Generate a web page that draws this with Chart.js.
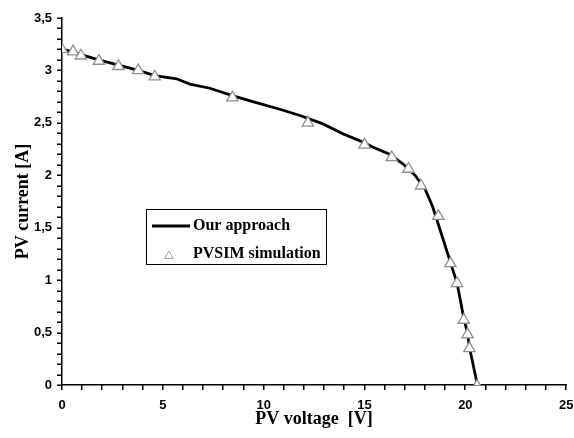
<!DOCTYPE html>
<html>
<head>
<meta charset="utf-8">
<script src="https://cdn.jsdelivr.net/npm/chart.js@4.4.0/dist/chart.umd.min.js"></script>
<style>
    html, body { margin: 0; padding: 0; background: #fff; }
    #wrap { width: 574px; height: 438px; }
</style>
</head>
<body>
<div id="wrap"><canvas id="ivChart" width="574" height="438"></canvas></div>
<script>
// Кривая "Our approach" (напряжение, ток)
const lineVoltage = [0, 0.55, 0.94, 1.83, 2.8, 3.78, 4.6, 5.68, 6.34, 7.33, 8.45, 9.5, 10.8, 11.8, 12.94, 14.0, 15.0, 15.4, 16.24, 16.9, 17.5, 18.0, 18.38, 18.88, 19.26, 19.59, 19.92, 20.11, 20.2, 20.6];
const lineCurrent = [3.2, 3.18, 3.15, 3.1, 3.05, 3.0, 2.95, 2.92, 2.87, 2.83, 2.76, 2.7, 2.63, 2.57, 2.49, 2.39, 2.31, 2.27, 2.2, 2.11, 2.0, 1.87, 1.7, 1.4, 1.17, 0.97, 0.64, 0.49, 0.36, 0];

// Точки PVSIM
const simVoltage = [0, 0.55, 0.94, 1.83, 2.8, 3.78, 4.6, 8.45, 12.19, 15.0, 16.35, 17.18, 17.8, 18.66, 19.26, 19.59, 19.92, 20.11, 20.2, 20.58];
const simCurrent = [3.2, 3.18, 3.14, 3.09, 3.04, 3.0, 2.94, 2.74, 2.5, 2.29, 2.17, 2.06, 1.9, 1.61, 1.16, 0.97, 0.62, 0.48, 0.35, -0.01];

// Засечки: основные и промежуточные
const xTickValues = [0, 1, 2, 3, 4, 5, 6, 7, 8, 9, 10, 11, 12, 13, 14, 15, 16, 17, 18, 19, 20, 21, 22, 23, 24, 25];
const yTickValues = [0, 0.1, 0.2, 0.3, 0.4, 0.5, 0.6, 0.7, 0.8, 0.9, 1, 1.1, 1.2, 1.3, 1.4, 1.5, 1.6, 1.7, 1.8, 1.9, 2, 2.1, 2.2, 2.3, 2.4, 2.5, 2.6, 2.7, 2.8, 2.9, 3, 3.1, 3.2, 3.3, 3.4, 3.5];

const seriesNames = ['Our approach', 'PVSIM simulation'];

function toPoints(xs, ys) {
    return xs.map((x, i) => ({ x: x, y: ys[i] }));
}

const tickFont = { family: 'Arial, "Liberation Sans", sans-serif', size: 13, weight: 'bold' };
const titleFont = { family: '"Liberation Serif", "Times New Roman", serif', size: 18, weight: 'bold' };

function drawAxisTicks(chart) {
    const ctx = chart.ctx;
    const area = chart.chartArea;
    const xs = chart.scales.x, ys = chart.scales.y;
    ctx.fillStyle = '#000';
    xTickValues.forEach(v => {
        const px = Math.round(xs.getPixelForValue(v));
        ctx.fillRect(px - 1, Math.round(area.bottom), 1.5, 5);
    });
    yTickValues.forEach(v => {
        const py = Math.round(ys.getPixelForValue(v));
        ctx.fillRect(Math.round(area.left) - 5, py - 0.5, 5, 1.5);
    });
}

// Легенда внутри области графика + засечки осей
const boxLegend = {
    id: 'boxLegend',
    afterDraw(chart) {
        const ctx = chart.ctx;
        ctx.save();
        try {
            drawAxisTicks(chart);
        } catch (err) {
            ctx.fillStyle = 'red';
            ctx.font = '12px sans-serif';
            ctx.fillText(String(err), 300, 60);
        }

        const x0 = 146, y0 = 209, w = 180, h = 55;
        ctx.fillStyle = '#fff';
        ctx.fillRect(x0, y0, w, h);
        ctx.strokeStyle = '#000';
        ctx.lineWidth = 1;
        ctx.strokeRect(x0 + 0.5, y0 + 0.5, w, h);

        const ds0 = chart.data.datasets[0];
        const ds1 = chart.data.datasets[1];
        ctx.strokeStyle = ds0.borderColor;
        ctx.lineWidth = ds0.borderWidth;
        ctx.beginPath();
        ctx.moveTo(152, 226);
        ctx.lineTo(190, 226);
        ctx.stroke();

        // маленький треугольник
        ctx.fillStyle = ds1.pointBackgroundColor;
        ctx.strokeStyle = '#a0a0a0';
        ctx.lineWidth = 1;
        ctx.beginPath();
        const r = 5;
        for (let k = 0; k < 3; k++) {
            const a = k * 2 * Math.PI / 3;
            const px = 169 + Math.sin(a) * r, py = 256 - Math.cos(a) * r;
            if (k === 0) ctx.moveTo(px, py); else ctx.lineTo(px, py);
        }
        ctx.closePath();
        ctx.fill();
        ctx.stroke();

        ctx.fillStyle = '#000';
        ctx.font = 'bold 16px "Liberation Serif", "Times New Roman", serif';
        ctx.textBaseline = 'middle';
        ctx.fillText(seriesNames[0], 193, 226);
        ctx.fillText(seriesNames[1], 193, 254);
        ctx.restore();
    }
};

const config = {
    type: 'scatter',
    data: {
        datasets: [
            {
                label: seriesNames[0],
                data: toPoints(lineVoltage, lineCurrent),
                showLine: true,
                borderColor: '#000',
                borderWidth: 2.8,
                pointRadius: 0,
                tension: 0,
                order: 2
            },
            {
                label: seriesNames[1],
                data: toPoints(simVoltage, simCurrent),
                showLine: false,
                pointStyle: 'triangle',
                pointRadius: 6.5,
                pointBorderWidth: 1.3,
                pointBorderColor: '#8f8f8f',
                pointBackgroundColor: '#fff',
                order: 1
            }
        ]
    },
    options: {
        responsive: false,
        animation: false,
        layout: { padding: { top: 18, right: 7, left: 0, bottom: 0 } },
        plugins: {
            legend: { display: false },
            tooltip: { enabled: false }
        },
        scales: {
            x: {
                type: 'linear',
                min: 0,
                max: 25,
                afterFit: s => { s.height = 53; s.paddingRight = 7; s.paddingLeft = 0; },
                border: { display: true, color: '#000', width: 1.5 },
                grid: { display: false, drawTicks: true, tickLength: 4 },
                ticks: {
                    stepSize: 5,
                    maxRotation: 0,
                    padding: 9,
                    color: '#000',
                    font: tickFont
                },
                title: { display: true, text: 'PV voltage  [V]', color: '#000', font: titleFont, padding: { top: 0, bottom: 8 } }
            },
            y: {
                type: 'linear',
                min: 0,
                max: 3.5,
                afterFit: s => { s.width = 62; },
                border: { display: true, color: '#000', width: 1.5 },
                grid: { display: false, drawTicks: true, tickLength: 4 },
                ticks: {
                    stepSize: 0.5,
                    padding: 6,
                    color: '#000',
                    font: tickFont,
                    callback: v => String(v).replace('.', ',')
                },
                title: { display: true, text: 'PV current [A]', color: '#000', font: titleFont, padding: { top: 13, bottom: 0 } }
            }
        }
    },
    plugins: [boxLegend]
};

new Chart(document.getElementById('ivChart'), config);
</script>
</body>
</html>
